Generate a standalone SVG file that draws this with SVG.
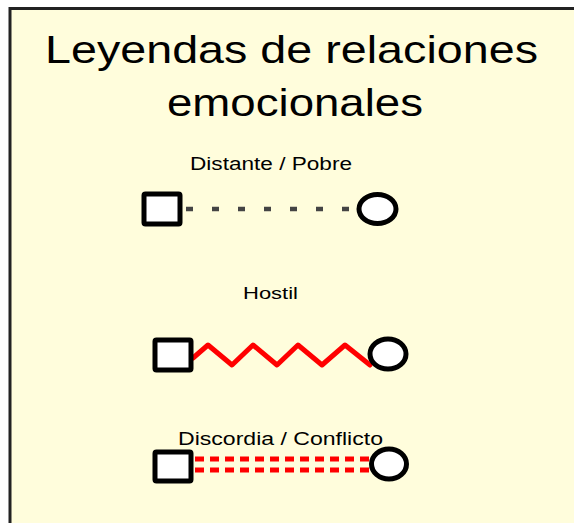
<svg xmlns="http://www.w3.org/2000/svg" width="574" height="523" viewBox="0 0 574 523">
<style>
.t{font-family:"Liberation Sans",Arial,sans-serif;fill:#000;}
.sq{fill:#fff;stroke:#000;stroke-width:5;}
.ci{fill:#fff;stroke:#000;stroke-width:5;}
</style>
<rect x="0" y="0" width="574" height="523" fill="#fff"/>
<rect id="frame" x="10" y="8.5" width="580" height="530" fill="#FFFDDC" stroke="#222" stroke-width="3"/>
<text class="t" x="45" y="63" font-size="39" textLength="493" lengthAdjust="spacingAndGlyphs">Leyendas de relaciones</text>
<text class="t" x="167" y="116" font-size="39" textLength="256" lengthAdjust="spacingAndGlyphs">emocionales</text>
<g id="connectors">
<line x1="186" y1="209" x2="358" y2="209" stroke="#444" stroke-width="4.5" stroke-dasharray="7 19"/>
<polyline points="193,358 208,345 232,365 253,345 277,365 298,345 322,365 345,345 370,365" fill="none" stroke="#f00" stroke-width="5" stroke-linejoin="round" stroke-linecap="round"/>
<line x1="195" y1="459" x2="372" y2="459" stroke="#f00" stroke-width="5" stroke-dasharray="9 6"/>
<line x1="195" y1="470" x2="372" y2="470" stroke="#f00" stroke-width="5" stroke-dasharray="9 6"/>
</g>
<g id="distante">
<text class="t" x="190" y="170" font-size="17.5" textLength="162" lengthAdjust="spacingAndGlyphs">Distante / Pobre</text>
<rect class="sq" x="144" y="194" width="36" height="30" rx="1.5"/>
<ellipse class="ci" cx="377.5" cy="209" rx="18.5" ry="14.5"/>
</g>
<g id="hostil">
<text class="t" x="243" y="299" font-size="17" textLength="55" lengthAdjust="spacingAndGlyphs">Hostil</text>
<rect class="sq" x="155" y="340" width="36" height="30" rx="1.5"/>
<ellipse class="ci" cx="388" cy="354" rx="18" ry="15"/>
</g>
<g id="discordia">
<text class="t" x="178" y="445" font-size="17.5" textLength="205" lengthAdjust="spacingAndGlyphs">Discordia / Conflicto</text>
<rect class="sq" x="155" y="452" width="36" height="29" rx="1.5"/>
<ellipse class="ci" cx="389" cy="464" rx="17.5" ry="15"/>
</g>
</svg>
